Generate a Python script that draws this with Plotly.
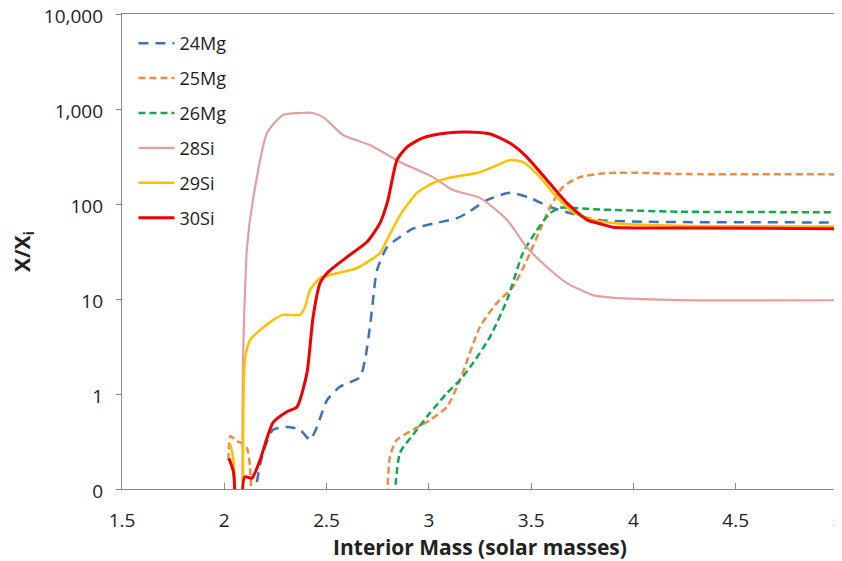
import plotly.graph_objects as go

# ---- data ----
mg24_m = [2.15, 2.155, 2.189, 2.238, 2.306, 2.37, 2.419, 2.453, 2.502, 2.565, 2.663, 2.688, 2.712, 2.727,
          2.746, 2.795, 2.859, 2.922, 3.02, 3.137, 3.186, 3.284, 3.396, 3.494, 3.592, 3.675, 3.822, 4.066, 5.0]
mg24_v = [0.01, 0.1, 0.24, 0.42, 0.45, 0.42, 0.33, 0.45, 0.86, 1.19, 1.5, 2.28, 5.1, 9.75,
          20, 35, 45, 55, 62, 71, 80, 110, 131, 116, 93, 82, 68, 65, 64]

mg25_m = [2.02, 2.03, 2.06, 2.09, 2.111, 2.126, 2.14, None,
          2.785, 2.81, 2.844, 2.922, 3.005, 3.088, 3.152, 3.25, 3.333, 3.411, 3.479, 3.543, 3.592,
          3.655, 3.738, 3.87, 4.066, 4.227, 5.0]
mg25_v = [0.2, 0.36, 0.32, 0.3, 0.27, 0.17, 0.01, None,
          0.01, 0.22, 0.33, 0.42, 0.53, 0.73, 1.4, 5.1, 9.1, 13.4, 25.7, 53, 93,
          151, 192, 212, 212, 207, 205]

mg26_m = [2.81, 2.859, 2.922, 3.005, 3.088, 3.152, 3.215, 3.299, 3.382, 3.46, 3.528, 3.592, 3.641,
          3.802, 4.227, 5.0]
mg26_v = [0.01, 0.24, 0.37, 0.63, 1.02, 1.4, 2.1, 4.0, 9.75, 30.5, 53, 80, 91,
          88, 83, 82]

si28_m = [2.089, 2.091, 2.111, 2.14, 2.209, 2.287, 2.37, 2.434, 2.49, 2.58, 2.712, 2.859, 3.02, 3.118,
          3.25, 3.382, 3.479, 3.577, 3.675, 3.802, 3.934, 4.227, 5.0]
si28_v = [0.01, 1.92, 35, 110, 558, 865, 908, 908, 803, 532, 418, 277, 192, 140,
          116, 68, 35, 21.7, 14.7, 11, 10.2, 9.75, 9.7]

si29_m = [2.028, 2.045, 2.058, None, 2.093, 2.101, 2.126, 2.174, 2.238, 2.287, 2.37, 2.394, 2.419, 2.468,
          2.517, 2.649, 2.761, 2.795, 2.859, 2.942, 3.02, 3.118, 3.235, 3.313, 3.396, 3.46, 3.543,
          3.607, 3.704, 3.802, 3.934, 4.227, 5.0]
si29_v = [0.30, 0.2, 0.01, None, 0.01, 2.28, 3.7, 4.7, 6.0, 6.8, 6.8, 8.2, 12.4, 16.6,
          17.9, 21.2, 30.5, 41.8, 76, 131, 166, 192, 212, 245, 290, 277, 192,
          131, 82, 68, 62, 59, 58]

si30_m = [2.023, 2.045, 2.058, None, 2.09, 2.10, 2.135, 2.174, 2.238, 2.306, 2.355, 2.404, 2.434, 2.468,
          2.507, 2.6, 2.697, 2.761, 2.8, 2.844, 2.893, 2.971, 3.088, 3.186, 3.3, 3.396, 3.479,
          3.577, 3.675, 3.773, 3.836, 3.9, 4.227, 5.0]
si30_v = [0.21, 0.15, 0.01, None, 0.01, 0.134, 0.13, 0.2, 0.5, 0.65, 0.73, 1.66, 6.45, 14.7,
          19.2, 27.7, 39.8, 63, 110, 290, 398, 496, 558, 573, 546, 438, 312,
          179, 102, 68, 62, 57, 56, 55]

y_tickvals = [0.1, 1, 10, 100, 1000, 10000]
y_ticktext = ["0", "1", "10", "100", "1,000", "10,000"]
x_tickvals = [1.5, 2, 2.5, 3, 3.5, 4, 4.5, 5]
x_ticktext = ["1.5", "2", "2.5", "3", "3.5", "4", "4.5", "5"]

series = [
    ("24Mg", mg24_m, mg24_v, "#3F72B5", 2.5, "10px,7px"),
    ("25Mg", mg25_m, mg25_v, "#EE8B45", 2.5, "7px,4px"),
    ("26Mg", mg26_m, mg26_v, "#10A850", 2.5, "7px,4px"),
    ("28Si", si28_m, si28_v, "#E4A0A0", 2.2, "solid"),
    ("29Si", si29_m, si29_v, "#FFC000", 2.5, "solid"),
    ("30Si", si30_m, si30_v, "#F00000", 3.0, "solid"),
]

FONT = "Open Sans"
fig = go.Figure()
for i, (name, xs, ys, col, w, dash) in enumerate(series):
    fig.add_trace(go.Scatter(
        x=xs, y=ys, mode="lines", name=name, legendgroup=name,
        line=dict(color=col, width=w, dash=dash, shape="spline", smoothing=0.6),
        connectgaps=False,
    ))

# page body has an 8px default margin, so the figure is sized/offset to compensate
fig.update_layout(
    width=834, height=553,
    margin=dict(l=114, r=4, t=6, b=72),
    paper_bgcolor="white", plot_bgcolor="white",
    font=dict(family=FONT, size=19, color="#222222"),
    showlegend=True,
    legend=dict(x=0.016, y=0.977, xanchor="left", yanchor="top",
                bgcolor="rgba(0,0,0,0)", font=dict(family=FONT, size=18, color="#222222"),
                tracegroupgap=8.5, itemwidth=36),
    xaxis=dict(range=[1.5, 5], tickvals=x_tickvals, ticktext=x_ticktext, automargin=False,
               showgrid=False, zeroline=False, showline=True, linecolor="#888888", linewidth=1.2,
               mirror=True, ticks="inside", ticklen=6, tickcolor="#888888",
               ticklabelstandoff=14, tickfont=dict(size=19), ticklabeloverflow="allow",
               title=dict(text="<b>Interior Mass (solar masses)</b>", standoff=8,
                          font=dict(family=FONT, size=21, color="#222222"))),
    yaxis=dict(type="log", range=[-1, 4], tickvals=y_tickvals, ticktext=y_ticktext, automargin=False,
               showgrid=False, zeroline=False, showline=True, linecolor="#888888", linewidth=1.2,
               mirror=True, ticks="outside", ticklen=5, tickcolor="#888888",
               ticklabelstandoff=9, ticklabelshift=2, tickfont=dict(size=19), ticklabeloverflow="allow",
               title=dict(text="<b>X/X<sub>i</sub></b>", standoff=22,
                          font=dict(family=FONT, size=21, color="#222222"))),
)

fig.write_html("out.html")
